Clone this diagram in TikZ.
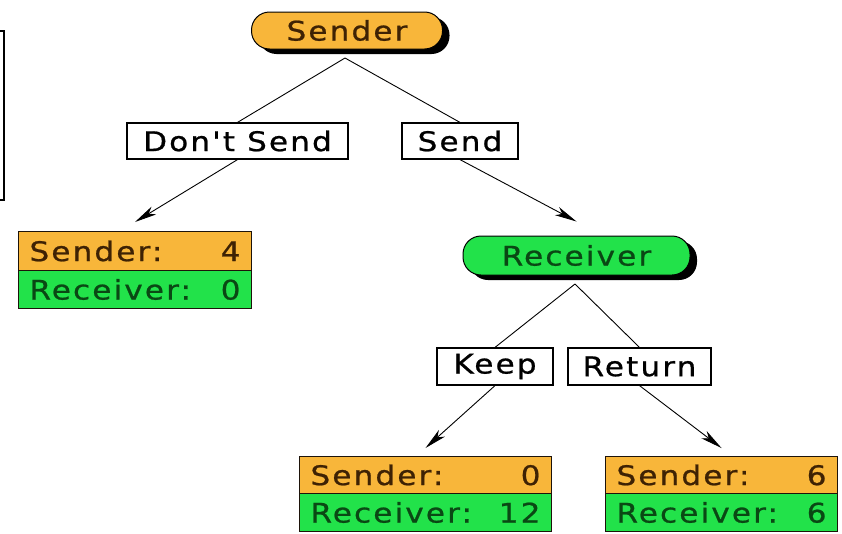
\documentclass[tikz,border=0pt]{standalone}
\usepackage{fontspec}
\usetikzlibrary{arrows.meta,shadows}
\newfontfamily\pixfont[FakeStretch=1.15,LetterSpace=8,FakeBold=0.8]{DejaVu Sans}
\definecolor{sendorange}{RGB}{248,182,58}
\definecolor{recvgreen}{RGB}{34,226,74}
\definecolor{sendtext}{RGB}{62,34,4}
\definecolor{recvtext}{RGB}{10,72,20}
\newcommand{\payline}[3]{\makebox[#1]{#2\hfill #3}}

\begin{document}
\begin{tikzpicture}[x=1pt,y=-1pt,
  every node/.style={font=\pixfont\fontsize{27}{32}\selectfont},
  pill/.style={rounded corners=18pt, draw=black, line width=1pt,
    inner sep=0pt,
    drop shadow={shadow xshift=7pt, shadow yshift=-5pt, opacity=1, fill=black}},
  choice/.style={draw=black, line width=1.2pt, fill=white, inner sep=0pt,
    minimum height=37pt},
  payrow/.style={draw=black!85!brown, line width=1pt, anchor=north west,
    inner xsep=11pt, inner ysep=0pt},
  edge/.style={draw=black, line width=0.9pt},
  arrowedge/.style={edge, -{Stealth[length=22pt,width=9pt,inset=6pt]}}]

% canvas
\fill[white] (0,0) rectangle (842,533);
\useasboundingbox (0,0) rectangle (842,533);

% partial frame at the left edge
\draw[line width=1.1pt] (0,31) -- (4,31) -- (4,200) -- (0,200);

% first mover
\node[pill, fill=sendorange, text=sendtext, minimum width=191pt,
  minimum height=37pt] (sender) at (347,30.5) {Sender};
\coordinate (sapex) at (345,58);

% sender's choices
\node[choice, minimum width=221pt, minimum height=36pt] (dont) at (237.5,141) {Don't Send};
\node[choice, minimum width=116pt, minimum height=36pt] (send) at (460,141) {Send};

% payoff after "Don't Send"
\node[payrow, fill=sendorange, text=sendtext, minimum height=39pt] (p1s) at (18,231)
  {\payline{211pt}{Sender:}{4}};
\node[payrow, fill=recvgreen, text=recvtext, minimum height=38pt] (p1r) at (18,270)
  {\payline{211pt}{Receiver:}{0}};

% second mover
\node[pill, fill=recvgreen, text=recvtext, minimum width=227pt,
  minimum height=39pt] (recv) at (576.5,255.5) {Receiver};
\coordinate (rapex) at (575,284);

% receiver's choices
\node[choice, minimum width=116pt] (keep) at (495,366.5) {Keep};
\node[choice, minimum width=143pt] (return) at (639.5,366.5) {Return};

% payoffs after "Keep"
\node[payrow, fill=sendorange, text=sendtext, minimum height=37pt] (p2s) at (299,456)
  {\payline{230pt}{Sender:}{0}};
\node[payrow, fill=recvgreen, text=recvtext, minimum height=38pt] (p2r) at (299,493)
  {\payline{230pt}{Receiver:}{12}};

% payoffs after "Return"
\node[payrow, fill=sendorange, text=sendtext, minimum height=37pt] (p3s) at (605,456)
  {\payline{210pt}{Sender:}{6}};
\node[payrow, fill=recvgreen, text=recvtext, minimum height=38pt] (p3r) at (605,493)
  {\payline{210pt}{Receiver:}{6}};

% branches
\draw[edge] (sapex) -- (dont.north);
\draw[edge] (sapex) -- (send.north);
\draw[arrowedge] (dont.south) -- ([yshift=9pt]p1s.north);
\draw[arrowedge] (send.south) -- ([yshift=14pt]recv.north);
\draw[edge] (rapex) -- (keep.north);
\draw[edge] (rapex) -- (return.north);
\draw[arrowedge] (keep.south) -- ([yshift=8pt]p2s.north);
\draw[arrowedge] (return.south) -- ([yshift=8pt]p3s.north);
\end{tikzpicture}
\end{document}
